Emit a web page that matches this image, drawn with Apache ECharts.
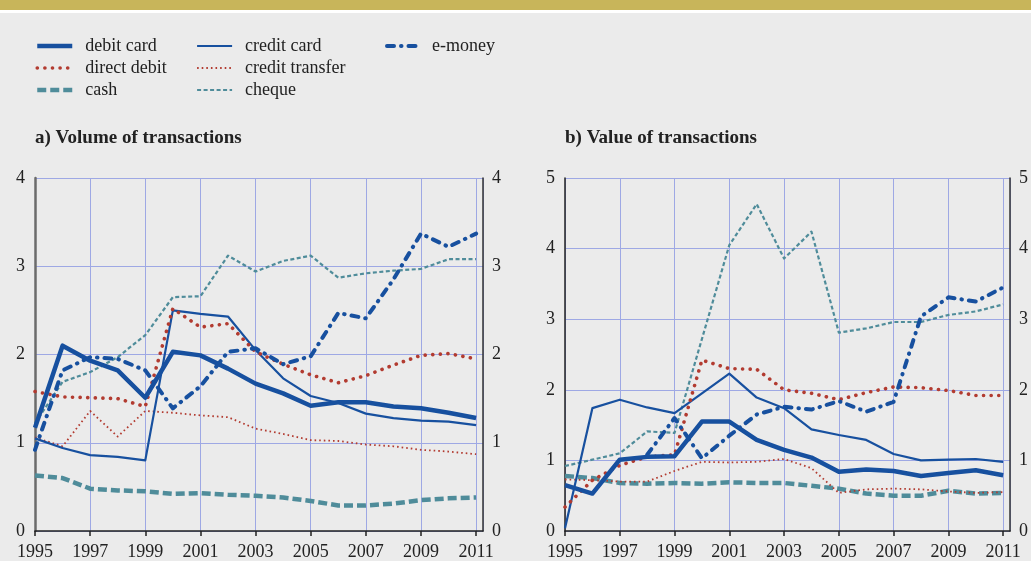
<!DOCTYPE html>
<html lang="en">
<head>
    <meta charset="UTF-8">
    <title>Payment instruments</title>
    <script src="https://cdn.jsdelivr.net/npm/echarts@6/dist/echarts.min.js"></script>
    <style>
        html, body { margin: 0; padding: 0; background: #ebebeb; }
    </style>
</head>
<body>
<div id="main" style="width:1031px; height: 561px"></div>

<script type="text/javascript">
    // years on the x axis
    var years = [1995, 1996, 1997, 1998, 1999, 2000, 2001, 2002, 2003, 2004, 2005, 2006, 2007, 2008, 2009, 2010, 2011];

    // a) volume of transactions
    var volDebitCard      = [1.17, 2.10, 1.93, 1.82, 1.51, 2.03, 1.99, 1.84, 1.67, 1.56, 1.42, 1.46, 1.46, 1.41, 1.39, 1.34, 1.28];
    var volCreditCard     = [1.05, 0.94, 0.86, 0.84, 0.80, 2.50, 2.46, 2.43, 2.05, 1.73, 1.53, 1.45, 1.33, 1.28, 1.25, 1.24, 1.20];
    var volEmoney         = [0.92, 1.82, 1.97, 1.95, 1.82, 1.39, 1.64, 2.03, 2.07, 1.89, 1.98, 2.47, 2.41, 2.85, 3.37, 3.22, 3.37];
    var volDirectDebit    = [1.58, 1.52, 1.51, 1.50, 1.41, 2.52, 2.31, 2.35, 2.03, 1.89, 1.77, 1.68, 1.76, 1.88, 1.99, 2.01, 1.95];
    var volCreditTransfer = [1.06, 0.96, 1.36, 1.07, 1.36, 1.34, 1.31, 1.29, 1.16, 1.10, 1.03, 1.02, 0.98, 0.96, 0.92, 0.90, 0.87];
    var volCash           = [0.63, 0.60, 0.48, 0.46, 0.45, 0.42, 0.43, 0.41, 0.40, 0.38, 0.34, 0.29, 0.29, 0.31, 0.35, 0.37, 0.38];
    var volCheque         = [1.22, 1.69, 1.80, 1.97, 2.22, 2.65, 2.66, 3.12, 2.94, 3.06, 3.12, 2.87, 2.92, 2.95, 2.97, 3.08, 3.08];

    // b) value of transactions
    var valDebitCard      = [0.65, 0.53, 1.01, 1.05, 1.06, 1.55, 1.55, 1.29, 1.15, 1.04, 0.84, 0.87, 0.85, 0.78, 0.82, 0.86, 0.79];
    var valCreditCard     = [0.04, 1.74, 1.86, 1.75, 1.67, 1.95, 2.23, 1.89, 1.74, 1.44, 1.36, 1.29, 1.09, 1.00, 1.01, 1.02, 0.98];
    var valEmoney         = [null, null, null, 1.08, 1.60, 1.03, 1.35, 1.65, 1.76, 1.72, 1.84, 1.69, 1.83, 3.04, 3.31, 3.25, 3.45];
    var valDirectDebit    = [0.34, 0.72, 0.93, 1.05, 1.08, 2.42, 2.30, 2.29, 2.00, 1.95, 1.86, 1.96, 2.04, 2.03, 1.99, 1.92, 1.92];
    var valCreditTransfer = [0.73, 0.72, 0.70, 0.70, 0.85, 0.98, 0.97, 0.98, 1.02, 0.89, 0.54, 0.59, 0.60, 0.59, 0.56, 0.54, 0.55];
    var valCash           = [0.78, 0.75, 0.68, 0.67, 0.68, 0.67, 0.69, 0.68, 0.68, 0.64, 0.60, 0.53, 0.50, 0.50, 0.57, 0.53, 0.54];
    var valCheque         = [0.92, 1.01, 1.10, 1.41, 1.39, 2.72, 4.05, 4.63, 3.86, 4.24, 2.81, 2.87, 2.96, 2.96, 3.06, 3.11, 3.21];

    var BLUE = '#17509f';
    var RED = '#b23b30';
    var TEAL = '#4f8c9a';
    var SERIF = '"Liberation Serif", "DejaVu Serif", serif';

    // line looks, shared by lines and legend
    var looks = {
        'debit card':      { color: BLUE, width: 4.5, type: 'solid', cap: 'butt' },
        'credit card':     { color: BLUE, width: 2.2, type: 'solid', cap: 'butt' },
        'e-money':         { color: BLUE, width: 4, type: [7, 7, 0.5, 7], cap: 'round' },
        'direct debit':    { color: RED, width: 3.6, type: [0.1, 7.5], cap: 'round' },
        'credit transfer': { color: RED, width: 1.8, type: [1.6, 3], cap: 'butt' },
        'cash':            { color: TEAL, width: 4.5, type: [9, 4], cap: 'butt' },
        'cheque':          { color: TEAL, width: 2.2, type: [4, 2.5], cap: 'butt' }
    };

    function pairs(vals) {
        return vals.map(function (v, i) { return [years[i], v]; });
    }

    function line(name, vals, gridIdx) {
        var lk = looks[name];
        return {
            name: name,
            type: 'line',
            xAxisIndex: gridIdx,
            yAxisIndex: gridIdx * 2,
            data: pairs(vals),
            symbol: 'none',
            color: lk.color,
            lineStyle: { color: lk.color, width: lk.width, type: lk.type, cap: lk.cap, join: 'round' },
            animation: false
        };
    }

    function legendCol(names, left, gap) {
        return {
            orient: 'vertical',
            left: left,
            top: 32,
            itemWidth: 35,
            itemHeight: 14,
            itemGap: 4,
            selectedMode: false,
            textStyle: { fontFamily: SERIF, fontSize: 18, color: '#222', lineHeight: 18, padding: [0, 0, 0, gap] },
            data: names.map(function (n) {
                var lk = looks[n];
                return {
                    name: n,
                    itemStyle: { opacity: 0 },
                    lineStyle: { color: lk.color, width: lk.width, type: lk.type, cap: lk.cap }
                };
            })
        };
    }

    function xAx(gridIdx) {
        return {
            type: 'value',
            gridIndex: gridIdx,
            min: 1995,
            max: 2011.25,
            interval: 2,
            axisLine: { lineStyle: { color: '#222', width: 1.5 } },
            axisTick: { length: 5, lineStyle: { color: '#222', width: 1.5 } },
            axisLabel: {
                fontFamily: SERIF, fontSize: 18, color: '#222', margin: 12,
                showMaxLabel: false,
                formatter: function (v) { return (Number.isInteger(v) && (v - 1995) % 2 === 0) ? String(v) : ''; }
            },
            splitLine: { show: true, lineStyle: { color: '#9ea8e4', width: 1 } }
        };
    }

    function yAx(gridIdx, pos, maxV, axisColor, axisWidth, margin) {
        return {
            type: 'value',
            gridIndex: gridIdx,
            position: pos,
            min: 0,
            max: maxV,
            interval: 1,
            axisLine: { show: true, lineStyle: { color: axisColor, width: axisWidth } },
            axisTick: { show: false },
            axisLabel: { fontFamily: SERIF, fontSize: 18, color: '#222', margin: margin },
            splitLine: { show: pos === 'left', lineStyle: { color: '#9ea8e4', width: 1 } }
        };
    }

    var chartDom = document.getElementById('main');
    var myChart = echarts.init(chartDom);
    var option;

    option = {
        backgroundColor: '#ebebeb',
        animation: false,
        graphic: [
            { type: 'rect', shape: { x: 0, y: 0, width: 1031, height: 10 }, style: { fill: '#c8b55a' } },
            { type: 'rect', shape: { x: 0, y: 10, width: 1031, height: 3 }, style: { fill: '#ffffff' } }
        ],
        title: [
            { text: 'a) Volume of transactions', left: 30, top: 124,
              textStyle: { fontFamily: SERIF, fontSize: 19, fontWeight: 'bold', color: '#222' } },
            { text: 'b) Value of transactions', left: 560, top: 124,
              textStyle: { fontFamily: SERIF, fontSize: 19, fontWeight: 'bold', color: '#222' } }
        ],
        legend: [
            legendCol(['debit card', 'direct debit', 'cash'], 30, 8),
            legendCol(['credit card', 'credit transfer', 'cheque'], 191, 8),
            legendCol(['e-money'], 380, 5)
        ],
        grid: [
            { left: 35, right: 548, top: 178, bottom: 30 },
            { left: 565, right: 18, top: 178, bottom: 30 }
        ],
        xAxis: [xAx(0), xAx(1)],
        yAxis: [
            yAx(0, 'left', 4, '#6b6b6b', 2.5, 10),
            yAx(0, 'right', 4, '#333', 1.5, 9),
            yAx(1, 'left', 5, '#222', 1.5, 10),
            yAx(1, 'right', 5, '#333', 1.5, 9)
        ],
        series: [
            line('cheque', volCheque, 0),
            line('cash', volCash, 0),
            line('credit transfer', volCreditTransfer, 0),
            line('credit card', volCreditCard, 0),
            line('direct debit', volDirectDebit, 0),
            line('debit card', volDebitCard, 0),
            line('e-money', volEmoney, 0),
            line('cheque', valCheque, 1),
            line('cash', valCash, 1),
            line('credit transfer', valCreditTransfer, 1),
            line('credit card', valCreditCard, 1),
            line('direct debit', valDirectDebit, 1),
            line('debit card', valDebitCard, 1),
            line('e-money', valEmoney, 1)
        ]
    };

    option && myChart.setOption(option);
</script>
</body>
</html>
